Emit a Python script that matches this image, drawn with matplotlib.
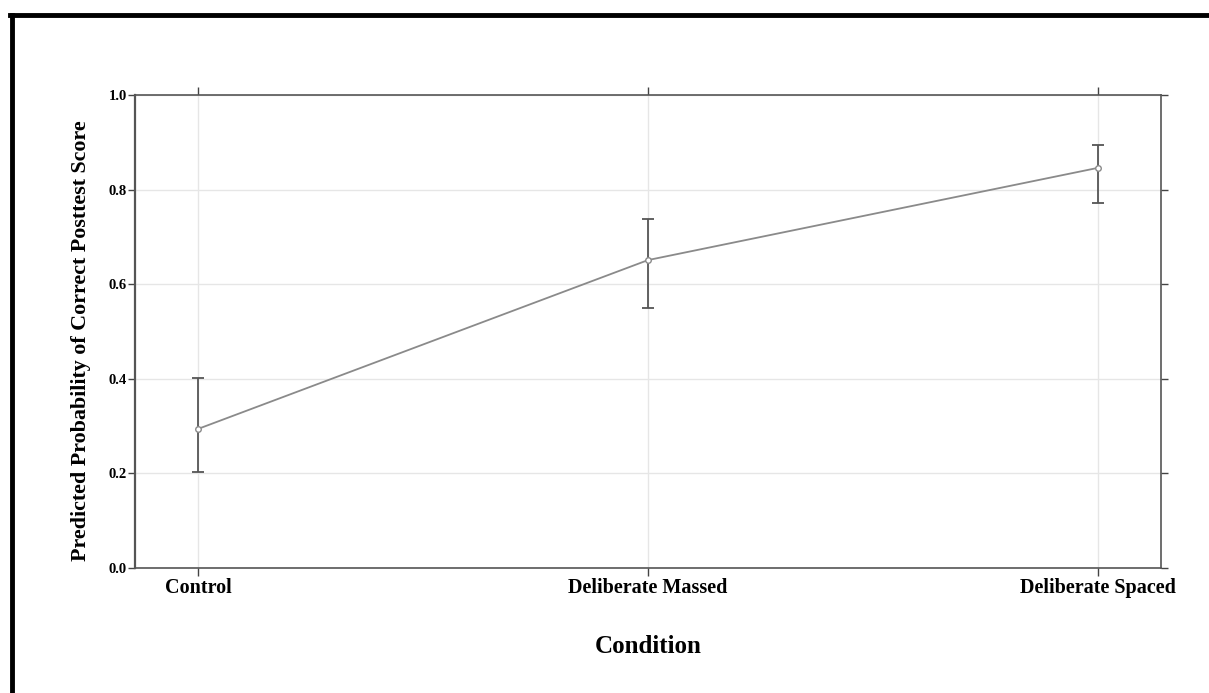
import matplotlib.pyplot as plt
from matplotlib.lines import Line2D
import numpy as np

conditions = ['Control', 'Deliberate Massed', 'Deliberate Spaced']
prob = [0.294, 0.651, 0.846]
ci_low = [0.203, 0.550, 0.772]
ci_high = [0.402, 0.738, 0.894]
yticks = [0.0, 0.2, 0.4, 0.6, 0.8, 1.0]

plt.rcParams['font.family'] = ['Liberation Serif', 'DejaVu Serif']
plt.rcParams['font.weight'] = 'bold'

fig = plt.figure(figsize=(12.09, 6.93), dpi=100)
ax = fig.add_axes([0.1117, 0.1804, 0.8486, 0.6825])

x = np.arange(len(conditions))
prob = np.array(prob)
yerr = [prob - np.array(ci_low), np.array(ci_high) - prob]

ax.plot(x, prob, color='#8a8a8a', lw=1.3, zorder=3)
ax.errorbar(x, prob, yerr=yerr, fmt='none', ecolor='#555555', elinewidth=1.3,
            capsize=4, capthick=1.3, zorder=2)
ax.plot(x, prob, 'o', ms=4, mfc='white', mec='#8a8a8a', mew=1, zorder=4)

ax.set_xlim(-0.14, 2.14)
ax.set_ylim(0, 1)
ax.set_xticks(x)
ax.set_xticklabels(conditions, fontsize=14.5, fontweight='bold')
ax.set_yticks(yticks)
ax.set_yticklabels([f'{v:.1f}' for v in yticks], fontsize=10.5, fontweight='bold')
ax.grid(True, color='#e6e6e6', lw=1)
ax.set_axisbelow(True)

ax.tick_params(axis='y', left=True, right=True, direction='out', length=5,
               width=1, color='#444444', pad=1)
ax.tick_params(axis='x', bottom=True, top=True, direction='out', length=6,
               width=1, color='#444444', pad=1)
for s in ax.spines.values():
    s.set_color('#555555')
    s.set_linewidth(1.2)
ax.spines['left'].set_linewidth(1.6)

ax.set_ylabel('Predicted Probability of Correct Posttest Score', fontsize=15.8,
              fontweight='bold')
ax.yaxis.set_label_coords(-0.043, 0.48)
ax.set_xlabel('Condition', fontsize=18, fontweight='bold', labelpad=27)

# frame around the figure (left and top edges)
fig.add_artist(Line2D([12 / 1209, 12 / 1209], [0, 1 - 15 / 693], color='black',
                      lw=3.5, transform=fig.transFigure))
fig.add_artist(Line2D([10 / 1209, 1], [1 - 15 / 693, 1 - 15 / 693], color='black',
                      lw=3.5, transform=fig.transFigure))

fig.savefig('out.png', dpi=100)
